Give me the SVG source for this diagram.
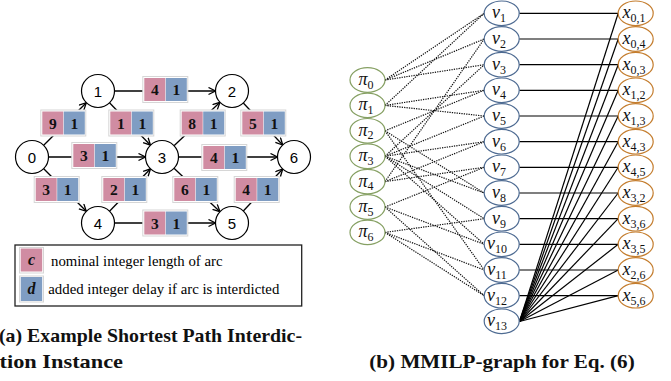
<svg xmlns="http://www.w3.org/2000/svg" width="671" height="381" viewBox="0 0 671 381">
<defs>
<marker id="arr" markerUnits="userSpaceOnUse" markerWidth="10" markerHeight="10" refX="7.5" refY="4" orient="auto">
<path d="M0.5,0.5 L7.5,4 L0.5,7.5" fill="none" stroke="#000" stroke-width="1.3"/>
</marker>
<style>
.nc{fill:#fff;stroke:#000;stroke-width:1.2}
.nl{font-family:"Liberation Sans",Arial,sans-serif;font-size:15px;text-anchor:middle;fill:#000}
.e{stroke:#000;stroke-width:1.3;fill:none}
.ea{stroke:#000;stroke-width:1.3;fill:none;marker-end:url(#arr)}
.bx{fill:#fff;stroke:#d6d6d6;stroke-width:1}
.pk{fill:#d08ca2}
.bl{fill:#7f9dc3}
.bn{font-family:"Liberation Serif","Times New Roman",serif;font-weight:bold;font-size:15.5px;text-anchor:middle;fill:#111}
.lg{font-family:"Liberation Serif","Times New Roman",serif;font-size:14.5px;fill:#000}
.cap{font-family:"Liberation Serif","Times New Roman",serif;font-weight:bold;font-size:19px;fill:#111}
.pe{fill:#fff;stroke:#86a063;stroke-width:1.2}
.ve{fill:#fff;stroke:#4e6b92;stroke-width:1.2}
.xe{fill:#fff;stroke:#c47d2e;stroke-width:1.2}
.ml{font-family:"Liberation Serif","Times New Roman",serif;font-style:italic;font-size:18px;text-anchor:middle;fill:#111}
.sb{font-style:normal;font-size:12px}
.dl{stroke:#111;stroke-width:1.2;stroke-dasharray:1.3 1.1;fill:none}
.sl{stroke:#000;stroke-width:1.2;fill:none}
</style>
</defs>
<rect width="671" height="381" fill="#fff"/>

<!-- Part (a) connectors -->
<g id="a-connectors">
<line class="ea" x1="43.7" y1="145.3" x2="86.3" y2="102.7"/>
<line class="ea" x1="43.7" y1="168.7" x2="86.3" y2="211.3"/>
<line class="ea" x1="48.5" y1="157" x2="145.5" y2="157"/>
<line class="ea" x1="114.5" y1="91" x2="215.5" y2="91"/>
<line class="ea" x1="109.5" y1="102.8" x2="150.5" y2="145.2"/>
<line class="ea" x1="109.5" y1="211.2" x2="150.5" y2="168.8"/>
<line class="ea" x1="174" y1="145.7" x2="220" y2="102.3"/>
<line class="ea" x1="174" y1="168.3" x2="220" y2="211.7"/>
<line class="ea" x1="178.5" y1="157" x2="277.5" y2="157"/>
<line class="ea" x1="243.3" y1="103" x2="282.7" y2="145"/>
<line class="ea" x1="243.3" y1="211" x2="282.7" y2="169"/>
<line class="ea" x1="114.5" y1="223" x2="215.5" y2="223"/>
</g>

<!-- Part (a) edge labels -->
<g id="a-edge-labels">
<g transform="translate(144.3,78)"><rect class="bx" x="-1.5" y="-1.5" width="45" height="26"/><rect class="pk" width="21" height="23"/><rect class="bl" x="21.5" width="21" height="23"/><text class="bn" x="10.5" y="17">4</text><text class="bn" x="32" y="17">1</text></g>
<g transform="translate(42.3,111.5)"><rect class="bx" x="-1.5" y="-1.5" width="45" height="26"/><rect class="pk" width="21" height="23"/><rect class="bl" x="21.5" width="21" height="23"/><text class="bn" x="10.5" y="17">9</text><text class="bn" x="32" y="17">1</text></g>
<g transform="translate(110.3,111.5)"><rect class="bx" x="-1.5" y="-1.5" width="45" height="26"/><rect class="pk" width="21" height="23"/><rect class="bl" x="21.5" width="21" height="23"/><text class="bn" x="10.5" y="17">1</text><text class="bn" x="32" y="17">1</text></g>
<g transform="translate(181.7,111.5)"><rect class="bx" x="-1.5" y="-1.5" width="45" height="26"/><rect class="pk" width="21" height="23"/><rect class="bl" x="21.5" width="21" height="23"/><text class="bn" x="10.5" y="17">8</text><text class="bn" x="32" y="17">1</text></g>
<g transform="translate(242.3,111.5)"><rect class="bx" x="-1.5" y="-1.5" width="45" height="26"/><rect class="pk" width="21" height="23"/><rect class="bl" x="21.5" width="21" height="23"/><text class="bn" x="10.5" y="17">5</text><text class="bn" x="32" y="17">1</text></g>
<g transform="translate(73.3,144)"><rect class="bx" x="-1.5" y="-1.5" width="45" height="26"/><rect class="pk" width="21" height="23"/><rect class="bl" x="21.5" width="21" height="23"/><text class="bn" x="10.5" y="17">3</text><text class="bn" x="32" y="17">1</text></g>
<g transform="translate(203.3,146)"><rect class="bx" x="-1.5" y="-1.5" width="45" height="26"/><rect class="pk" width="21" height="23"/><rect class="bl" x="21.5" width="21" height="23"/><text class="bn" x="10.5" y="17">4</text><text class="bn" x="32" y="17">1</text></g>
<g transform="translate(35.7,178)"><rect class="bx" x="-1.5" y="-1.5" width="45" height="26"/><rect class="pk" width="21" height="23"/><rect class="bl" x="21.5" width="21" height="23"/><text class="bn" x="10.5" y="17">3</text><text class="bn" x="32" y="17">1</text></g>
<g transform="translate(103.3,178)"><rect class="bx" x="-1.5" y="-1.5" width="45" height="26"/><rect class="pk" width="21" height="23"/><rect class="bl" x="21.5" width="21" height="23"/><text class="bn" x="10.5" y="17">2</text><text class="bn" x="32" y="17">1</text></g>
<g transform="translate(174.3,178)"><rect class="bx" x="-1.5" y="-1.5" width="45" height="26"/><rect class="pk" width="21" height="23"/><rect class="bl" x="21.5" width="21" height="23"/><text class="bn" x="10.5" y="17">6</text><text class="bn" x="32" y="17">1</text></g>
<g transform="translate(235.7,178)"><rect class="bx" x="-1.5" y="-1.5" width="45" height="26"/><rect class="pk" width="21" height="23"/><rect class="bl" x="21.5" width="21" height="23"/><text class="bn" x="10.5" y="17">4</text><text class="bn" x="32" y="17">1</text></g>
<g transform="translate(144.3,211.5)"><rect class="bx" x="-1.5" y="-1.5" width="45" height="26"/><rect class="pk" width="21" height="23"/><rect class="bl" x="21.5" width="21" height="23"/><text class="bn" x="10.5" y="17">3</text><text class="bn" x="32" y="17">1</text></g>
</g>

<!-- Part (a) nodes -->
<g id="n0"><circle class="nc" cx="32" cy="157" r="16.5"/><text class="nl" x="32" y="162.5">0</text></g>
<g id="n1"><circle class="nc" cx="98" cy="91" r="16.5"/><text class="nl" x="98" y="96.5">1</text></g>
<g id="n2"><circle class="nc" cx="232" cy="91" r="16.5"/><text class="nl" x="232" y="96.5">2</text></g>
<g id="n3"><circle class="nc" cx="162" cy="157" r="16.5"/><text class="nl" x="162" y="162.5">3</text></g>
<g id="n4"><circle class="nc" cx="98" cy="223" r="16.5"/><text class="nl" x="98" y="228.5">4</text></g>
<g id="n5"><circle class="nc" cx="232" cy="223" r="16.5"/><text class="nl" x="232" y="228.5">5</text></g>
<g id="n6"><circle class="nc" cx="294" cy="157" r="16.5"/><text class="nl" x="294" y="162.5">6</text></g>

<!-- Legend -->
<g id="legend">
<rect x="15" y="245" width="286.7" height="61" fill="#fff" stroke="#222" stroke-width="1.3"/>
<rect class="bx" x="19.5" y="247.5" width="24" height="25.5"/>
<rect class="pk" x="20.7" y="248.5" width="21.5" height="23"/>
<text x="31.5" y="265" style="font-family:'Liberation Serif',serif;font-weight:bold;font-style:italic;font-size:16px;text-anchor:middle;fill:#111">c</text>
<text class="lg" x="51" y="266" textLength="171.5" lengthAdjust="spacingAndGlyphs">nominal integer length of arc</text>
<rect class="bx" x="19.5" y="276" width="24" height="26"/>
<rect class="bl" x="20.7" y="277" width="21.5" height="24"/>
<text x="31.5" y="294" style="font-family:'Liberation Serif',serif;font-weight:bold;font-style:italic;font-size:16px;text-anchor:middle;fill:#111">d</text>
<text class="lg" x="48.3" y="294.3" textLength="231" lengthAdjust="spacingAndGlyphs">added integer delay if arc is interdicted</text>
</g>

<!-- Part (b) connectors -->
<g id="b-connectors">
<line class="dl" x1="385" y1="80" x2="484.2" y2="13.3"/>
<line class="dl" x1="385" y1="80" x2="484.2" y2="39"/>
<line class="dl" x1="385" y1="80" x2="484.2" y2="64.7"/>
<line class="dl" x1="385" y1="105.4" x2="484.2" y2="13.3"/>
<line class="dl" x1="385" y1="105.4" x2="484.2" y2="90.3"/>
<line class="dl" x1="385" y1="105.4" x2="484.2" y2="116"/>
<line class="dl" x1="385" y1="130.8" x2="484.2" y2="90.3"/>
<line class="dl" x1="385" y1="130.8" x2="484.2" y2="193"/>
<line class="dl" x1="385" y1="130.8" x2="484.2" y2="270"/>
<line class="dl" x1="385" y1="156.2" x2="484.2" y2="64.7"/>
<line class="dl" x1="385" y1="156.2" x2="484.2" y2="116"/>
<line class="dl" x1="385" y1="156.2" x2="484.2" y2="141.7"/>
<line class="dl" x1="385" y1="156.2" x2="484.2" y2="193"/>
<line class="dl" x1="385" y1="156.2" x2="484.2" y2="218.7"/>
<line class="dl" x1="385" y1="156.2" x2="484.2" y2="244.3"/>
<line class="dl" x1="385" y1="181.6" x2="484.2" y2="39"/>
<line class="dl" x1="385" y1="181.6" x2="484.2" y2="141.7"/>
<line class="dl" x1="385" y1="181.6" x2="484.2" y2="167.3"/>
<line class="dl" x1="385" y1="207" x2="484.2" y2="167.3"/>
<line class="dl" x1="385" y1="207" x2="484.2" y2="244.3"/>
<line class="dl" x1="385" y1="207" x2="484.2" y2="295.7"/>
<line class="dl" x1="385" y1="232.4" x2="484.2" y2="218.7"/>
<line class="dl" x1="385" y1="232.4" x2="484.2" y2="270"/>
<line class="dl" x1="385" y1="232.4" x2="484.2" y2="295.7"/>
<line class="sl" x1="519.2" y1="13.3" x2="618.2" y2="13.3"/>
<line class="sl" x1="519.2" y1="39" x2="618.2" y2="39"/>
<line class="sl" x1="519.2" y1="64.7" x2="618.2" y2="64.7"/>
<line class="sl" x1="519.2" y1="90.3" x2="618.2" y2="90.3"/>
<line class="sl" x1="519.2" y1="116" x2="618.2" y2="116"/>
<line class="sl" x1="519.2" y1="141.7" x2="618.2" y2="141.7"/>
<line class="sl" x1="519.2" y1="167.3" x2="618.2" y2="167.3"/>
<line class="sl" x1="519.2" y1="193" x2="618.2" y2="193"/>
<line class="sl" x1="519.2" y1="218.7" x2="618.2" y2="218.7"/>
<line class="sl" x1="519.2" y1="244.3" x2="618.2" y2="244.3"/>
<line class="sl" x1="519.2" y1="270" x2="618.2" y2="270"/>
<line class="sl" x1="519.2" y1="295.7" x2="618.2" y2="295.7"/>
<line class="sl" x1="519.5" y1="321.5" x2="618.2" y2="13.3"/>
<line class="sl" x1="519.5" y1="321.5" x2="618.2" y2="39"/>
<line class="sl" x1="519.5" y1="321.5" x2="618.2" y2="64.7"/>
<line class="sl" x1="519.5" y1="321.5" x2="618.2" y2="90.3"/>
<line class="sl" x1="519.5" y1="321.5" x2="618.2" y2="116"/>
<line class="sl" x1="519.5" y1="321.5" x2="618.2" y2="141.7"/>
<line class="sl" x1="519.5" y1="321.5" x2="618.2" y2="167.3"/>
<line class="sl" x1="519.5" y1="321.5" x2="618.2" y2="193"/>
<line class="sl" x1="519.5" y1="321.5" x2="618.2" y2="218.7"/>
<line class="sl" x1="519.5" y1="321.5" x2="618.2" y2="244.3"/>
<line class="sl" x1="519.5" y1="321.5" x2="618.2" y2="270"/>
<line class="sl" x1="519.5" y1="321.5" x2="618.2" y2="295.7"/>
</g>

<!-- Part (b) pi nodes -->
<g id="pi0"><ellipse class="pe" cx="367.5" cy="80" rx="17.5" ry="12.3"/><text class="ml" x="366" y="85">π<tspan class="sb" dy="3.5">0</tspan></text></g>
<g id="pi1"><ellipse class="pe" cx="367.5" cy="105.4" rx="17.5" ry="12.3"/><text class="ml" x="366" y="110.4">π<tspan class="sb" dy="3.5">1</tspan></text></g>
<g id="pi2"><ellipse class="pe" cx="367.5" cy="130.8" rx="17.5" ry="12.3"/><text class="ml" x="366" y="135.8">π<tspan class="sb" dy="3.5">2</tspan></text></g>
<g id="pi3"><ellipse class="pe" cx="367.5" cy="156.2" rx="17.5" ry="12.3"/><text class="ml" x="366" y="161.2">π<tspan class="sb" dy="3.5">3</tspan></text></g>
<g id="pi4"><ellipse class="pe" cx="367.5" cy="181.6" rx="17.5" ry="12.3"/><text class="ml" x="366" y="186.6">π<tspan class="sb" dy="3.5">4</tspan></text></g>
<g id="pi5"><ellipse class="pe" cx="367.5" cy="207" rx="17.5" ry="12.3"/><text class="ml" x="366" y="212">π<tspan class="sb" dy="3.5">5</tspan></text></g>
<g id="pi6"><ellipse class="pe" cx="367.5" cy="232.4" rx="17.5" ry="12.3"/><text class="ml" x="366" y="237.4">π<tspan class="sb" dy="3.5">6</tspan></text></g>

<!-- Part (b) v nodes -->
<g id="v1"><ellipse class="ve" cx="501.7" cy="13.3" rx="17.5" ry="12.3"/><text class="ml" x="499" y="18.3">v<tspan class="sb" dy="4">1</tspan></text></g>
<g id="v2"><ellipse class="ve" cx="501.7" cy="39" rx="17.5" ry="12.3"/><text class="ml" x="499" y="44">v<tspan class="sb" dy="4">2</tspan></text></g>
<g id="v3"><ellipse class="ve" cx="501.7" cy="64.7" rx="17.5" ry="12.3"/><text class="ml" x="499" y="69.7">v<tspan class="sb" dy="4">3</tspan></text></g>
<g id="v4"><ellipse class="ve" cx="501.7" cy="90.3" rx="17.5" ry="12.3"/><text class="ml" x="499" y="95.3">v<tspan class="sb" dy="4">4</tspan></text></g>
<g id="v5"><ellipse class="ve" cx="501.7" cy="116" rx="17.5" ry="12.3"/><text class="ml" x="499" y="121">v<tspan class="sb" dy="4">5</tspan></text></g>
<g id="v6"><ellipse class="ve" cx="501.7" cy="141.7" rx="17.5" ry="12.3"/><text class="ml" x="499" y="146.7">v<tspan class="sb" dy="4">6</tspan></text></g>
<g id="v7"><ellipse class="ve" cx="501.7" cy="167.3" rx="17.5" ry="12.3"/><text class="ml" x="499" y="172.3">v<tspan class="sb" dy="4">7</tspan></text></g>
<g id="v8"><ellipse class="ve" cx="501.7" cy="193" rx="17.5" ry="12.3"/><text class="ml" x="499" y="198">v<tspan class="sb" dy="4">8</tspan></text></g>
<g id="v9"><ellipse class="ve" cx="501.7" cy="218.7" rx="17.5" ry="12.3"/><text class="ml" x="499" y="223.7">v<tspan class="sb" dy="4">9</tspan></text></g>
<g id="v10"><ellipse class="ve" cx="501.7" cy="244.3" rx="17.5" ry="12.3"/><text class="ml" x="497" y="249.3">v<tspan class="sb" dy="4">10</tspan></text></g>
<g id="v11"><ellipse class="ve" cx="501.7" cy="270" rx="17.5" ry="12.3"/><text class="ml" x="497" y="275">v<tspan class="sb" dy="4">11</tspan></text></g>
<g id="v12"><ellipse class="ve" cx="501.7" cy="295.7" rx="17.5" ry="12.3"/><text class="ml" x="497" y="300.7">v<tspan class="sb" dy="4">12</tspan></text></g>
<g id="v13"><ellipse class="ve" cx="501.7" cy="321.3" rx="17.5" ry="12.3"/><text class="ml" x="497" y="326.3">v<tspan class="sb" dy="4">13</tspan></text></g>

<!-- Part (b) x nodes -->
<g id="x01"><ellipse class="xe" cx="635.7" cy="13.3" rx="17.5" ry="12.3"/><text class="ml" x="634" y="18.3">x<tspan class="sb" dy="4">0,1</tspan></text></g>
<g id="x04"><ellipse class="xe" cx="635.7" cy="39" rx="17.5" ry="12.3"/><text class="ml" x="634" y="44">x<tspan class="sb" dy="4">0,4</tspan></text></g>
<g id="x03"><ellipse class="xe" cx="635.7" cy="64.7" rx="17.5" ry="12.3"/><text class="ml" x="634" y="69.7">x<tspan class="sb" dy="4">0,3</tspan></text></g>
<g id="x12"><ellipse class="xe" cx="635.7" cy="90.3" rx="17.5" ry="12.3"/><text class="ml" x="634" y="95.3">x<tspan class="sb" dy="4">1,2</tspan></text></g>
<g id="x13"><ellipse class="xe" cx="635.7" cy="116" rx="17.5" ry="12.3"/><text class="ml" x="634" y="121">x<tspan class="sb" dy="4">1,3</tspan></text></g>
<g id="x43"><ellipse class="xe" cx="635.7" cy="141.7" rx="17.5" ry="12.3"/><text class="ml" x="634" y="146.7">x<tspan class="sb" dy="4">4,3</tspan></text></g>
<g id="x45"><ellipse class="xe" cx="635.7" cy="167.3" rx="17.5" ry="12.3"/><text class="ml" x="634" y="172.3">x<tspan class="sb" dy="4">4,5</tspan></text></g>
<g id="x32"><ellipse class="xe" cx="635.7" cy="193" rx="17.5" ry="12.3"/><text class="ml" x="634" y="198">x<tspan class="sb" dy="4">3,2</tspan></text></g>
<g id="x36"><ellipse class="xe" cx="635.7" cy="218.7" rx="17.5" ry="12.3"/><text class="ml" x="634" y="223.7">x<tspan class="sb" dy="4">3,6</tspan></text></g>
<g id="x35"><ellipse class="xe" cx="635.7" cy="244.3" rx="17.5" ry="12.3"/><text class="ml" x="634" y="249.3">x<tspan class="sb" dy="4">3,5</tspan></text></g>
<g id="x26"><ellipse class="xe" cx="635.7" cy="270" rx="17.5" ry="12.3"/><text class="ml" x="634" y="275">x<tspan class="sb" dy="4">2,6</tspan></text></g>
<g id="x56"><ellipse class="xe" cx="635.7" cy="295.7" rx="17.5" ry="12.3"/><text class="ml" x="634" y="300.7">x<tspan class="sb" dy="4">5,6</tspan></text></g>

<!-- Captions -->
<text class="cap" x="-1" y="342" textLength="303" lengthAdjust="spacingAndGlyphs">(a) Example Shortest Path Interdic-</text>
<text class="cap" x="-0.5" y="368" textLength="123.5" lengthAdjust="spacingAndGlyphs">tion Instance</text>
<text class="cap" x="369.3" y="368" textLength="265.4" lengthAdjust="spacingAndGlyphs">(b) MMILP-graph for Eq. (6)</text>
</svg>
